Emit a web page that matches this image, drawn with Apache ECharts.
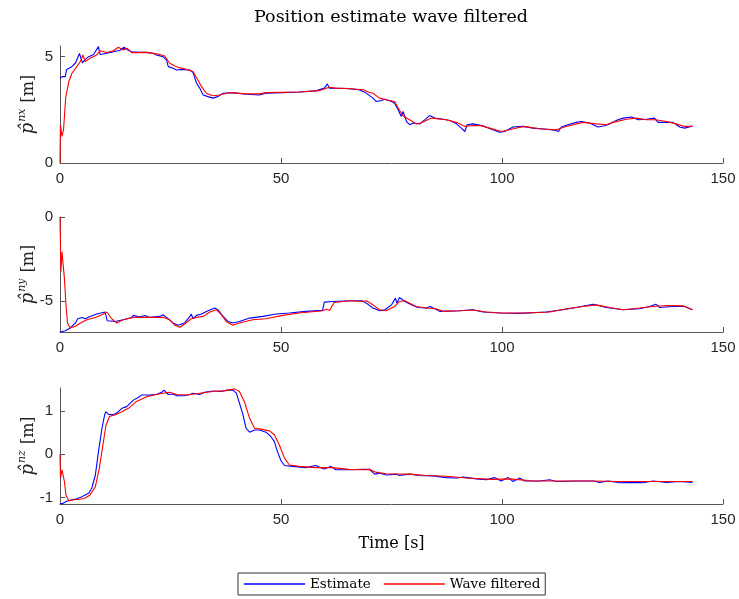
<!DOCTYPE html>
<html>
<head>
<meta charset="utf-8">
<script src="https://cdn.jsdelivr.net/npm/echarts@6/dist/echarts.min.js"></script>
<style>
  html, body { margin: 0; padding: 0; background: #fff; }
  #chart { width: 739px; height: 599px; }
</style>
</head>
<body>
<div id="chart"></div>
<script>
// Time axis (seconds)
const timeTicks = [0, 50, 100, 150];

// North-x position [m]: raw estimate and wave-filtered estimate, as [time, value]
const estX = [[0,3.98],[0.5,4.06],[1.2,4.06],[1.5,4.4],[2.5,4.5],[3.5,4.7],[4.4,5.15],[5.1,4.7],[5.6,4.85],[6.5,5.0],[7.6,5.1],[8.7,5.47],[9.1,5.1],[10.6,5.16],[12.1,5.23],[13.6,5.3],[14.5,5.44],[15.1,5.34],[16.2,5.23],[18,5.2],[19.6,5.2],[21.1,5.16],[21.8,5.08],[23.3,5.0],[24.1,4.84],[24.5,4.53],[25.6,4.45],[26.4,4.37],[27.5,4.4],[29.4,4.37],[30.1,4.25],[30.9,3.75],[31.6,3.52],[32.4,3.2],[33.5,3.12],[34.6,3.05],[35.7,3.12],[36.9,3.28],[39.1,3.31],[42.1,3.23],[45.1,3.2],[46.6,3.28],[50.4,3.31],[54.1,3.34],[57.9,3.39],[59.8,3.52],[60.5,3.72],[60.9,3.52],[64.6,3.5],[67.6,3.44],[69.1,3.31],[70.8,3.05],[71.6,2.89],[72.7,2.94],[73.5,3.0],[75,2.89],[75.7,2.81],[76.5,2.5],[77.2,2.19],[77.6,2.42],[78.4,1.95],[79.1,1.8],[79.9,1.88],[81.4,1.84],[82.5,2.03],[83.6,2.23],[84.8,2.11],[86.7,2.06],[88.2,2.0],[89.7,1.84],[90.8,1.64],[91.6,1.48],[92.1,1.8],[93.4,1.84],[95.7,1.75],[97.6,1.59],[99.5,1.45],[100.6,1.48],[102.5,1.69],[104.8,1.72],[107,1.64],[110,1.59],[112.3,1.53],[112.8,1.48],[113.4,1.69],[114.9,1.8],[116.8,1.91],[117.9,1.95],[119.8,1.88],[121.7,1.69],[123.2,1.75],[124.4,1.84],[126.2,2.03],[127.4,2.11],[129.3,2.16],[130.8,2.03],[132.7,2.06],[134.5,2.11],[135.3,1.91],[138.7,1.91],[140.2,1.69],[141.3,1.64],[142.8,1.72],[143.1,1.72]];
const waveX = [[0,0],[0.1,1.8],[0.45,1.25],[0.8,1.56],[1.3,3.1],[2.0,3.83],[2.7,4.22],[3.8,4.53],[4.6,4.77],[5.2,5.08],[5.7,4.77],[6.8,4.92],[8.3,5.08],[9.1,5.28],[10.6,5.19],[12.1,5.28],[13.2,5.44],[14.3,5.31],[15.2,5.39],[16.2,5.19],[19.6,5.2],[22.2,5.12],[23.7,5.03],[24.8,4.69],[26,4.56],[26.7,4.5],[28.6,4.4],[30.1,4.3],[31.2,3.9],[32,3.6],[33.1,3.28],[34.6,3.16],[36.1,3.2],[38.5,3.31],[42.1,3.25],[45.1,3.25],[46.6,3.31],[54.1,3.34],[58.6,3.4],[60.9,3.56],[62.4,3.52],[65.4,3.5],[68.6,3.44],[69.9,3.33],[70.8,3.28],[72.3,3.05],[73.8,2.97],[75.7,2.89],[76.5,2.58],[77.6,2.22],[79.1,2.03],[80.6,1.84],[81.7,1.88],[84,2.11],[87.4,2.03],[89.7,1.91],[91.6,1.72],[92.7,1.75],[94.9,1.77],[97.2,1.64],[99.8,1.48],[101.7,1.56],[104.8,1.72],[108.5,1.61],[112.3,1.56],[114.5,1.72],[118.3,1.91],[121.3,1.84],[123.6,1.8],[125.1,1.91],[128.1,2.06],[130.4,2.11],[132.7,2.03],[134.7,2.03],[137.2,1.95],[139.4,1.84],[141.3,1.72],[143.1,1.72]];

// North-y position [m]
const estY = [[0,-6.86],[1.2,-6.78],[2.3,-6.62],[3.5,-6.32],[4,-6.07],[5,-5.99],[5.7,-6.07],[6.8,-5.93],[8.3,-5.79],[10.2,-5.67],[10.6,-5.63],[10.7,-6.19],[12.5,-6.23],[14.3,-6.13],[16.2,-5.99],[16.6,-5.87],[18,-5.97],[19.2,-5.87],[20.3,-5.99],[22.6,-5.93],[23.3,-5.83],[24.1,-5.99],[25.6,-6.32],[26.7,-6.46],[28.2,-6.32],[29.4,-5.93],[29.7,-5.79],[30.1,-6.07],[30.9,-5.87],[32,-5.79],[33.5,-5.59],[35,-5.43],[35.7,-5.53],[36.9,-5.93],[38,-6.23],[39.1,-6.32],[40.6,-6.23],[42.9,-6.03],[45.9,-5.93],[48.9,-5.79],[51.9,-5.73],[55.6,-5.63],[59.4,-5.57],[59.8,-5.08],[61.6,-5.04],[65.4,-5.0],[68.4,-5.0],[69.3,-5.14],[70.8,-5.43],[72.3,-5.59],[73.5,-5.53],[75,-5.24],[75.9,-4.84],[76.2,-5.14],[76.8,-4.8],[78,-5.04],[79.5,-5.24],[81,-5.4],[82.9,-5.43],[83.8,-5.34],[85.9,-5.63],[90.4,-5.59],[93.4,-5.53],[95.7,-5.67],[99.5,-5.73],[104,-5.75],[110,-5.67],[113.8,-5.53],[116.8,-5.4],[120.6,-5.2],[123.6,-5.4],[127.4,-5.53],[131.1,-5.47],[133.4,-5.34],[134.8,-5.2],[135.7,-5.4],[138.7,-5.34],[141.3,-5.34],[143.1,-5.53]];
const waveY = [[0,0],[0.2,-3.26],[0.45,-2.08],[1.0,-3.66],[1.35,-5.24],[1.7,-6.32],[2.3,-6.62],[3.5,-6.52],[4.6,-6.32],[6.1,-6.13],[8,-5.99],[9.5,-5.83],[10.6,-5.67],[11.7,-6.07],[12.8,-6.32],[14.3,-6.13],[16.6,-5.99],[23.5,-5.99],[24.8,-6.13],[26,-6.46],[27.1,-6.58],[28.2,-6.38],[29.7,-6.07],[30.9,-5.99],[32.4,-5.93],[33.9,-5.67],[35.4,-5.53],[36.5,-5.83],[37.6,-6.23],[39.1,-6.46],[40.6,-6.32],[43.6,-6.13],[46.6,-6.07],[50.4,-5.87],[54.1,-5.73],[59.4,-5.59],[60.3,-5.5],[61.0,-5.58],[62,-5.1],[65.8,-5.0],[68.4,-5.04],[69.3,-5.0],[70.8,-5.24],[72.3,-5.53],[73.8,-5.59],[75.7,-5.34],[76.8,-5.04],[78,-5.0],[79.1,-5.14],[80.6,-5.34],[82.9,-5.43],[85.1,-5.47],[86.7,-5.63],[90.4,-5.59],[93.4,-5.55],[96.5,-5.67],[100.2,-5.73],[105.5,-5.73],[110.8,-5.67],[114.6,-5.47],[118.3,-5.34],[121.3,-5.24],[124.4,-5.4],[127.4,-5.53],[131.1,-5.43],[134.2,-5.34],[137.2,-5.28],[141,-5.3],[143.1,-5.53]];

// North-z position [m]
const estZ = [[0,-1.15],[0.8,-1.13],[1.6,-1.08],[2.7,-1.05],[3.8,-1.03],[5,-0.98],[5.7,-0.94],[6.5,-0.9],[7.2,-0.78],[8,-0.48],[8.7,0.06],[9.5,0.6],[10.1,0.91],[10.4,0.98],[11,0.92],[12.1,0.91],[12.8,0.95],[14,1.06],[15.1,1.1],[16.6,1.25],[17.7,1.31],[18.5,1.37],[20.3,1.37],[21.8,1.38],[23,1.43],[23.5,1.48],[24.5,1.38],[25.6,1.39],[26.4,1.35],[28.2,1.35],[29.4,1.38],[30.1,1.41],[31.6,1.38],[32.7,1.43],[34.6,1.46],[36.5,1.45],[37.6,1.48],[39.1,1.48],[39.9,1.41],[40.6,1.18],[41.4,0.91],[42.1,0.6],[42.9,0.51],[44,0.56],[45.1,0.56],[46.6,0.51],[47.7,0.41],[48.5,0.29],[49.2,0.06],[50,-0.15],[50.8,-0.26],[52.6,-0.28],[55.6,-0.31],[57.9,-0.26],[59,-0.31],[59.8,-0.34],[60.5,-0.31],[61.3,-0.28],[62.4,-0.36],[65.4,-0.36],[68.4,-0.35],[70,-0.35],[71.2,-0.46],[72.3,-0.44],[73.8,-0.48],[76.1,-0.46],[76.8,-0.49],[79.1,-0.46],[81.4,-0.49],[84.4,-0.5],[87.4,-0.54],[89.7,-0.55],[91.2,-0.53],[94.2,-0.57],[96.5,-0.59],[98.3,-0.54],[99.8,-0.62],[101.4,-0.54],[102.5,-0.63],[104,-0.55],[105.1,-0.62],[108.5,-0.62],[110.8,-0.59],[112.3,-0.63],[116.8,-0.62],[120.6,-0.62],[122.1,-0.65],[124,-0.62],[126.6,-0.66],[130.4,-0.65],[131.9,-0.66],[134.2,-0.62],[137.2,-0.65],[140.2,-0.63],[143.1,-0.65]];
const waveZ = [[0,0],[0.1,-0.55],[0.45,-0.36],[1,-0.63],[1.35,-0.94],[2,-1.08],[3.1,-1.05],[4.6,-1.04],[5.7,-1.01],[6.8,-0.94],[8,-0.75],[8.9,-0.32],[9.7,0.21],[10.4,0.67],[11.2,0.87],[12.5,0.91],[14,0.98],[15.5,1.06],[17.3,1.22],[19.6,1.33],[21.8,1.38],[23.3,1.41],[24.8,1.43],[26.4,1.38],[28.6,1.37],[31.6,1.41],[34.6,1.45],[37.6,1.47],[39.5,1.51],[40.6,1.45],[41.7,1.22],[42.9,0.83],[44,0.6],[45.5,0.58],[47.4,0.54],[48.5,0.45],[49.6,0.22],[50.8,-0.09],[51.9,-0.25],[54.1,-0.28],[57.9,-0.31],[61.6,-0.31],[65.4,-0.35],[69.1,-0.36],[70,-0.35],[71.6,-0.42],[73.8,-0.45],[79.1,-0.46],[82.9,-0.49],[87.4,-0.51],[92,-0.55],[98,-0.58],[101.8,-0.57],[107,-0.62],[120.6,-0.62],[126.6,-0.63],[143.1,-0.63]];

// Value-axis ranges and tick labels for the three panels
const yRanges = [[0, 5.5], [-6.86, 0], [-1.15, 1.53]];
const yTicks = [[0, 5], [-5, 0], [-1, 0, 1]];
const ySup = ['nx', 'ny', 'nz'];

const seriesNames = ['Estimate', 'Wave filtered'];
const colors = ['#0000ff', '#ff0000'];

const axisColor = '#262626';
const axisLineColor = '#555555';
const serif = '"DejaVu Serif", "Liberation Serif", serif';
const sans = '"Liberation Sans", Arial, sans-serif';

const grids = [
  { left: 60, right: 16, top: 46, height: 117 },
  { left: 60, right: 16, top: 217, height: 115 },
  { left: 60, right: 16, top: 388, height: 116 }
];

const xAxes = grids.map((g, i) => ({
  type: 'value', gridIndex: i, min: 0, max: 150, interval: 50,
  axisLine: { show: true, onZero: false, lineStyle: { color: axisLineColor, width: 1 } },
  axisTick: { show: true, inside: true, length: 5, lineStyle: { color: axisLineColor } },
  axisLabel: { color: axisColor, fontSize: 15, fontFamily: sans, margin: 8,
               customValues: timeTicks },
  splitLine: { show: false },
  name: i === 2 ? 'Time [s]' : '',
  nameLocation: 'middle', nameGap: 32, nameMoveOverlap: false,
  nameTextStyle: { color: '#000', fontSize: 16, fontFamily: serif }
}));

const yAxes = grids.map((g, i) => ({
  type: 'value', gridIndex: i, min: yRanges[i][0], max: yRanges[i][1],
  axisLine: { show: true, onZero: false, lineStyle: { color: axisLineColor, width: 1 } },
  axisTick: { show: true, inside: true, length: 5, customValues: yTicks[i],
              lineStyle: { color: axisLineColor } },
  axisLabel: { color: axisColor, fontSize: 15, fontFamily: sans, margin: 7,
               customValues: yTicks[i] },
  splitLine: { show: false },
  name: '{p|p\u0302}{s|' + ySup[i] + '}{m| [m]}',
  nameLocation: 'middle', nameRotate: 90, nameGap: 20, nameMoveOverlap: false,
  nameTextStyle: {
    color: '#222',
    rich: {
      p: { fontFamily: serif, fontStyle: 'italic', fontSize: 18, color: '#222' },
      s: { fontFamily: serif, fontStyle: 'italic', fontSize: 11, color: '#222',
           padding: [0, 1, 12, 1] },
      m: { fontFamily: serif, fontSize: 16, color: '#222' }
    }
  }
}));

const panels = [[estX, waveX], [estY, waveY], [estZ, waveZ]];
const series = [];
panels.forEach((pair, i) => {
  pair.forEach((data, k) => {
    series.push({
      name: seriesNames[k], type: 'line', xAxisIndex: i, yAxisIndex: i,
      data: data, symbol: 'none', showSymbol: false, animation: false,
      lineStyle: { color: colors[k], width: 1.1 }, itemStyle: { color: colors[k] },
      z: k === 0 ? 2 : 3
    });
  });
});

const chart = echarts.init(document.getElementById('chart'), null, { renderer: 'canvas' });
chart.setOption({
  backgroundColor: '#fff',
  animation: false,
  title: {
    text: 'Position estimate wave filtered',
    left: 386, top: 3, textAlign: 'center',
    textStyle: { fontFamily: serif, fontWeight: 'normal', fontSize: 17.5, color: '#000' }
  },
  legend: {
    data: seriesNames.map(n => ({ name: n, icon: 'rect' })),
    left: 238, top: 573,
    orient: 'horizontal',
    itemWidth: 61, itemHeight: 1.5, itemGap: 13,
    padding: [4, 5, 4, 6],
    borderColor: '#333', borderWidth: 1,
    textStyle: { fontFamily: serif, fontSize: 13.5, color: '#000', lineHeight: 14 }
  },
  grid: grids,
  xAxis: xAxes,
  yAxis: yAxes,
  series: series
});
</script>
</body>
</html>
